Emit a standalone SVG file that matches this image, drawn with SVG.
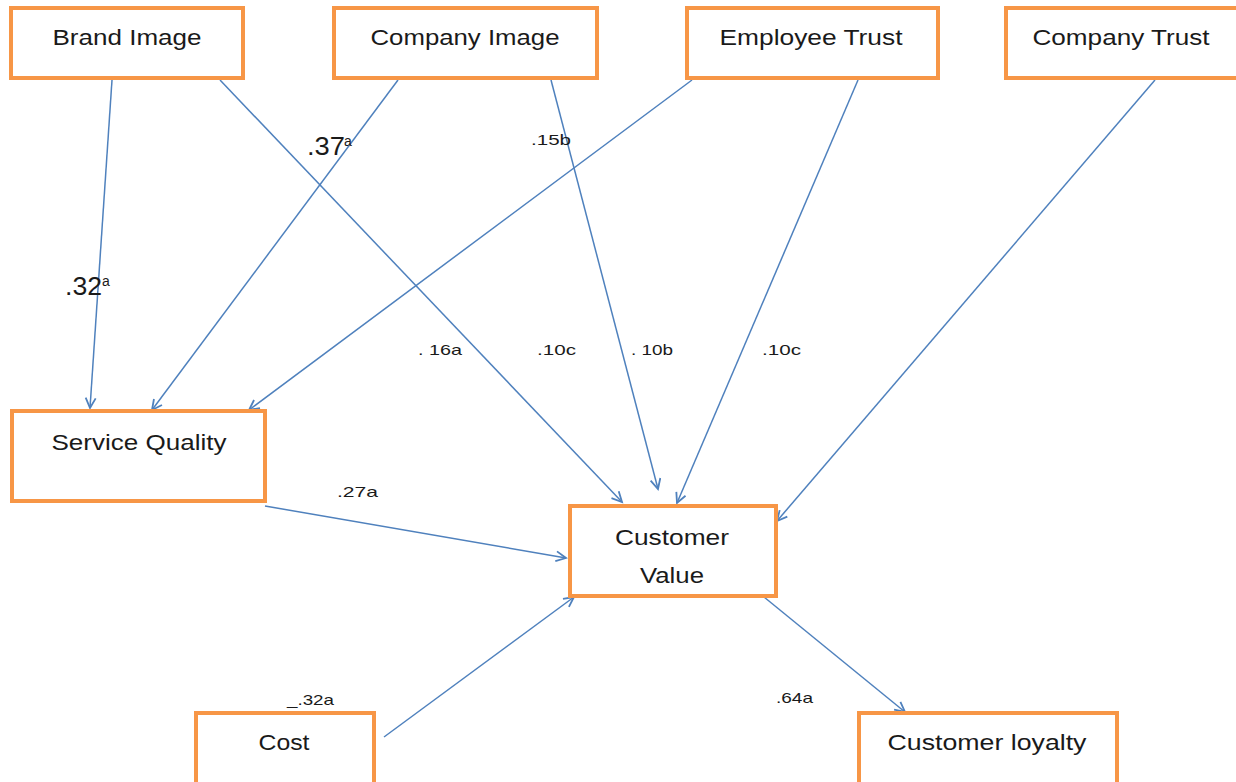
<svg xmlns="http://www.w3.org/2000/svg" width="1236" height="782" viewBox="0 0 1236 782">
  <style>
    .box { fill: #ffffff; stroke: #F79646; stroke-width: 4; }
    .lbl { font-family: "Liberation Sans", Arial, sans-serif; font-size: 22px; fill: #1a1a1a; text-anchor: middle; }
    .coef { font-family: "Liberation Sans", Arial, sans-serif; font-size: 15px; fill: #1a1a1a; }
    .big { font-family: "Liberation Sans", Arial, sans-serif; font-size: 25px; fill: #1a1a1a; }
    .sup { font-family: "Liberation Sans", Arial, sans-serif; font-size: 14px; fill: #1a1a1a; }
    .edge { stroke: #4F81BD; stroke-width: 1.5; fill: none; marker-end: url(#arrow); }
  </style>
  <defs>
    <marker id="arrow" markerUnits="userSpaceOnUse" markerWidth="14" markerHeight="14" refX="11" refY="6" orient="auto">
      <path d="M1,1 L11,6 L1,11" fill="none" stroke="#4F81BD" stroke-width="1.8"/>
    </marker>
  </defs>
  <rect width="1236" height="782" fill="#ffffff"/>

  <!-- connectors -->
  <g id="connectors">
    <line class="edge" x1="112" y1="80" x2="90" y2="408"/>
    <line class="edge" x1="220" y1="80" x2="622" y2="502"/>
    <line class="edge" x1="398" y1="80" x2="152" y2="410"/>
    <line class="edge" x1="551" y1="80" x2="658" y2="489"/>
    <line class="edge" x1="692" y1="80" x2="249" y2="410"/>
    <line class="edge" x1="858" y1="80" x2="677" y2="503"/>
    <line class="edge" x1="1155" y1="80" x2="777" y2="521"/>
    <line class="edge" x1="265" y1="506" x2="566" y2="558"/>
    <line class="edge" x1="384" y1="737" x2="574" y2="597"/>
    <line class="edge" x1="764" y1="597" x2="905" y2="712"/>
  </g>

  <!-- path coefficients -->
  <g id="coefficients">
    <text class="big" x="307" y="155" textLength="38" lengthAdjust="spacingAndGlyphs">.37</text><text class="sup" x="344" y="146">a</text>
    <text class="big" x="65" y="295" textLength="37" lengthAdjust="spacingAndGlyphs">.32</text><text class="sup" x="102" y="286">a</text>
    <text class="coef" x="531" y="145" textLength="40" lengthAdjust="spacingAndGlyphs">.15b</text>
    <text class="coef" x="418" y="355" textLength="44" lengthAdjust="spacingAndGlyphs">. 16a</text>
    <text class="coef" x="537" y="355" textLength="39" lengthAdjust="spacingAndGlyphs">.10c</text>
    <text class="coef" x="631" y="355" textLength="42" lengthAdjust="spacingAndGlyphs">. 10b</text>
    <text class="coef" x="762" y="355" textLength="39" lengthAdjust="spacingAndGlyphs">.10c</text>
    <text class="coef" x="337" y="497" textLength="41" lengthAdjust="spacingAndGlyphs">.27a</text>
    <text class="coef" x="287" y="705" textLength="47" lengthAdjust="spacingAndGlyphs">_.32a</text>
    <text class="coef" x="776" y="703" textLength="37" lengthAdjust="spacingAndGlyphs">.64a</text>
  </g>

  <g id="brand-image">
    <rect class="box" x="11" y="8" width="232" height="70"/>
    <text class="lbl" x="127" y="45" textLength="149" lengthAdjust="spacingAndGlyphs">Brand Image</text>
  </g>
  <g id="company-image">
    <rect class="box" x="334" y="8" width="263" height="70"/>
    <text class="lbl" x="465" y="45" textLength="189" lengthAdjust="spacingAndGlyphs">Company Image</text>
  </g>
  <g id="employee-trust">
    <rect class="box" x="687" y="8" width="251" height="70"/>
    <text class="lbl" x="811" y="45" textLength="183" lengthAdjust="spacingAndGlyphs">Employee Trust</text>
  </g>
  <g id="company-trust">
    <rect class="box" x="1006" y="8" width="232" height="70"/>
    <text class="lbl" x="1121" y="45" textLength="177" lengthAdjust="spacingAndGlyphs">Company Trust</text>
  </g>
  <g id="service-quality">
    <rect class="box" x="12" y="411" width="253" height="90"/>
    <text class="lbl" x="139" y="450" textLength="175" lengthAdjust="spacingAndGlyphs">Service Quality</text>
  </g>
  <g id="customer-value">
    <rect class="box" x="570" y="506" width="206" height="90"/>
    <text class="lbl" x="672" y="545" textLength="114" lengthAdjust="spacingAndGlyphs">Customer</text>
    <text class="lbl" x="672" y="583" textLength="64" lengthAdjust="spacingAndGlyphs">Value</text>
  </g>
  <g id="cost">
    <rect class="box" x="196" y="713" width="178" height="72"/>
    <text class="lbl" x="284" y="750" textLength="51" lengthAdjust="spacingAndGlyphs">Cost</text>
  </g>
  <g id="customer-loyalty">
    <rect class="box" x="859" y="713" width="258" height="72"/>
    <text class="lbl" x="987" y="750" textLength="199" lengthAdjust="spacingAndGlyphs">Customer loyalty</text>
  </g>
</svg>
